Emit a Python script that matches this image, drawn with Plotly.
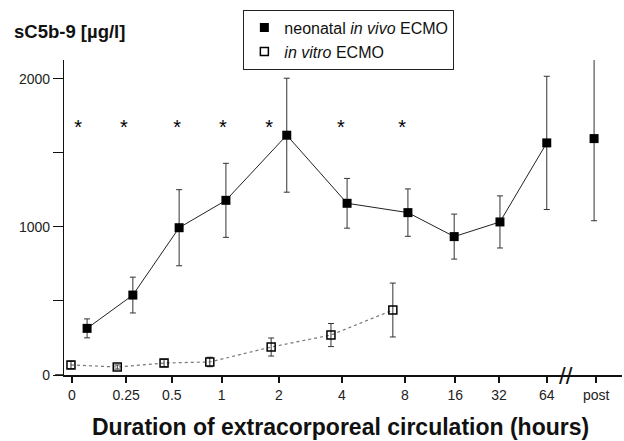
import plotly.graph_objects as go

# ---- data ----
tick_labels = ["0", "0.25", "0.5", "1", "2", "4", "8", "16", "32", "64", "post"]
tick_pos = [0, 1.04, 1.92, 2.88, 3.98, 5.19, 6.40, 7.37, 8.21, 9.13, 10.08]

vivo_x = [0.29, 1.17, 2.06, 2.96, 4.13, 5.29, 6.46, 7.35, 8.23, 9.13, 10.04]
vivo_y = [315, 540, 995, 1180, 1620, 1160, 1097, 935, 1034, 1568, 1597]
vivo_err = [64, 121, 257, 250, 385, 168, 160, 152, 176, 450, 555]

vitro_x = [-0.02, 0.87, 1.77, 2.65, 3.83, 4.98, 6.17]
vitro_y = [68, 54, 81, 88, 189, 270, 439]
vitro_err = [25, 14, 25, 32, 61, 78, 182]

star_x = [0.12, 1.0, 2.02, 2.9, 3.79, 5.17, 6.35]
star_y = [1660] * 7

break_x = 9.5

FONT = "Liberation Sans, Arial, sans-serif"

fig = go.Figure()

# connecting lines (no legend)
fig.add_trace(go.Scatter(
    x=vivo_x[:-1], y=vivo_y[:-1], mode="lines",
    line=dict(color="#222", width=1), showlegend=False, hoverinfo="skip"))
fig.add_trace(go.Scatter(
    x=vitro_x, y=vitro_y, mode="lines",
    line=dict(color="#777", width=1.2, dash="dot"), showlegend=False, hoverinfo="skip"))

# markers with error bars
fig.add_trace(go.Scatter(
    x=vivo_x, y=vivo_y, mode="markers", name="neonatal <i>in vivo</i> ECMO",
    marker=dict(symbol="square", size=9, color="black"),
    error_y=dict(type="data", array=vivo_err, visible=True, color="#333", thickness=1, width=3),
    cliponaxis=False))
fig.add_trace(go.Scatter(
    x=vitro_x, y=vitro_y, mode="markers", name="<i>in vitro</i> ECMO",
    marker=dict(symbol="square-open", size=8, color="black", line=dict(width=1.5)),
    error_y=dict(type="data", array=vitro_err, visible=True, color="#333", thickness=1, width=3),
    cliponaxis=False))

# significance stars
fig.add_trace(go.Scatter(
    x=star_x, y=star_y, mode="text", text=["*"] * len(star_x),
    textfont=dict(family=FONT, size=20, color="black"),
    showlegend=False, hoverinfo="skip", cliponaxis=False))

fig.update_layout(
    template="none",
    width=624, height=441,
    margin=dict(l=64, r=2, t=60, b=66, autoexpand=False),
    paper_bgcolor="white", plot_bgcolor="white",
    font=dict(family=FONT, color="#222", size=12),
    showlegend=True,
    hovermode=False,
    legend=dict(
        xref="container", yref="container",
        x=0.39, y=0.978, xanchor="left", yanchor="top",
        bordercolor="#222", borderwidth=1, bgcolor="white",
        font=dict(family=FONT, size=16, color="#111"),
        tracegroupgap=0, itemwidth=30),
    xaxis=dict(
        range=[-0.154, 10.577], showgrid=False, zeroline=False, automargin=False,
        showline=True, linecolor="#111", linewidth=1.5,
        tickmode="array", tickvals=tick_pos, ticktext=tick_labels,
        ticks="outside", ticklen=6, tickwidth=1.5, tickcolor="#111",
        tickfont=dict(family=FONT, size=14, color="#222")),
    yaxis=dict(
        range=[0, 2128], showgrid=False, zeroline=False, automargin=False,
        showline=True, linecolor="#111", linewidth=1.2,
        tickmode="array", tickvals=[0, 500, 1000, 1500, 2000],
        ticktext=["0", "", "1000", "", "2000"],
        ticks="outside", ticklen=10, tickwidth=1.2, tickcolor="#111",
        tickfont=dict(family=FONT, size=14, color="#222")),
    shapes=[
        dict(type="line", xref="paper", yref="y", x0=-0.016, x1=0, y0=0, y1=0,
             line=dict(color="#111", width=1.5)),
    ],
    annotations=[
        dict(text="<b>sC5b-9 [µg/l]</b>", xref="paper", yref="paper",
             x=-0.093, y=1.092, xanchor="left", yanchor="middle", showarrow=False,
             font=dict(family=FONT, size=18.5, color="#111")),
        dict(text="<b>Duration of extracorporeal circulation (hours)</b>",
             xref="paper", yref="paper", x=0.495, y=-0.165, xanchor="center",
             yanchor="middle", showarrow=False,
             font=dict(family=FONT, size=23, color="#111")),
        dict(text="//", xref="x", yref="y", x=break_x, y=0, showarrow=False,
             xanchor="center", yanchor="middle",
             font=dict(family=FONT, size=24, color="#111")),
    ],
)

fig.write_html("out.html", config={"displayModeBar": False},
               post_script="document.body.style.margin='0px';")
